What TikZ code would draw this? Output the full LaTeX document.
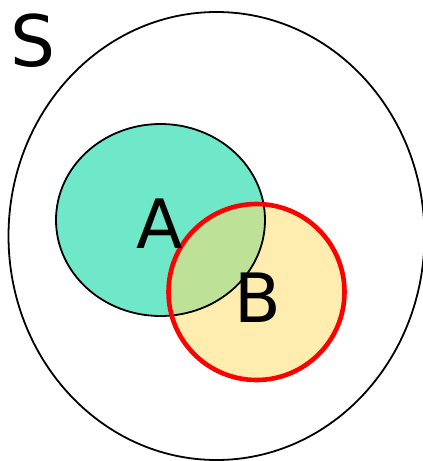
\documentclass[tikz,border=0pt]{standalone}
\usepackage{fontspec}
\setmainfont{DejaVu Sans}
\begin{document}
\begin{tikzpicture}[x=1pt,y=-1pt,
  lbl/.style={inner sep=0pt,font=\fontsize{68}{68}\selectfont},
  setA/.style={fill={rgb,255:red,110;green,232;blue,200}},
  setB/.style={fill={rgb,255:red,255;green,220;blue,110},fill opacity=0.55}]
\useasboundingbox (0,0) rectangle (423,461);
\draw[line width=1.8pt] (216.5,236) ellipse [x radius=208, y radius=224];
\path[setA] (160.5,220) ellipse [x radius=104.5, y radius=96];
\path[setB] (256.5,292) circle [radius=88];
\draw[line width=1.8pt] (160.5,220) ellipse [x radius=104.5, y radius=96];
\draw[red,line width=4.6pt] (256.5,292) circle [radius=88];
\node[lbl,font=\fontsize{71}{71}\selectfont] (S) at (33,41) {S};
\node[lbl] (A) at (160,224) {A};
\node[lbl] (B) at (258,298) {B};
\end{tikzpicture}
\end{document}
